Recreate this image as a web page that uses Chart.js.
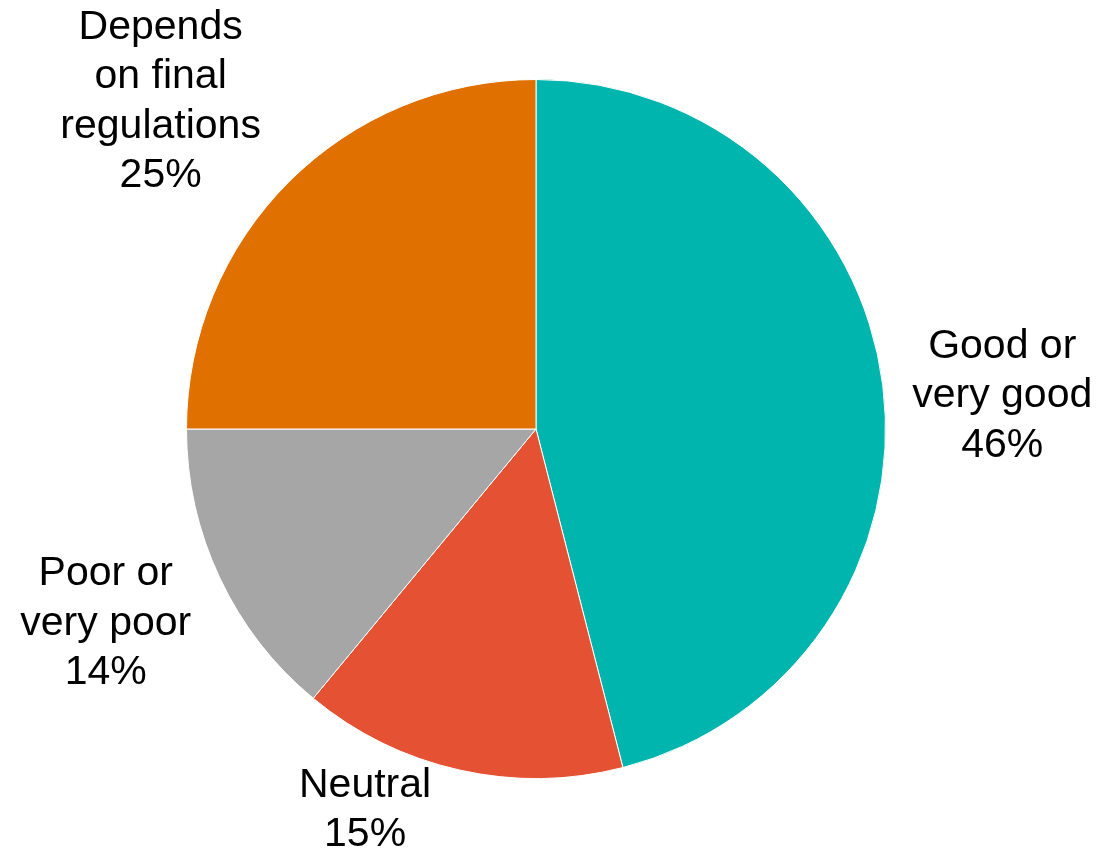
<!DOCTYPE html>
<html>
<head>
<meta charset="utf-8">
<script src="https://cdn.jsdelivr.net/npm/chart.js@4"></script>
<style>
  html, body { margin: 0; padding: 0; background: #fff; }
  #wrap { width: 1101px; height: 850px; }
</style>
</head>
<body>
<div id="wrap"><canvas id="grafico"></canvas></div>
<script>
const categorias = [
    ['Good or', 'very good'],
    ['Neutral'],
    ['Poor or', 'very poor'],
    ['Depends', 'on final', 'regulations']
];
const valores = [46, 15, 14, 25];

const cores = ['#00B5AE', '#E45133', '#A6A6A6', '#E07000'];
// label anchor, in units of the pie radius, relative to the pie centre
const posRotulos = [[1.334, -0.094], [-0.489, 1.091], [-1.231, 0.557], [-1.074, -0.937]];

const rotulosPlugin = {
    id: 'rotulos',
    afterDatasetsDraw(chart) {
        const ctx = chart.ctx;
        const meta = chart.getDatasetMeta(0);
        ctx.save();
        ctx.font = '41px "Liberation Sans", Arial, sans-serif';
        ctx.fillStyle = '#000';
        ctx.textAlign = 'center';
        ctx.textBaseline = 'middle';
        const lh = 49.5;
        meta.data.forEach(function (arc, i) {
            const p = arc.getProps(['x', 'y', 'outerRadius'], true);
            const linhas = categorias[i].concat([valores[i] + '%']);
            const cx = p.x + posRotulos[i][0] * p.outerRadius;
            const cy = p.y + posRotulos[i][1] * p.outerRadius;
            const y0 = cy - (linhas.length - 1) * lh / 2;
            linhas.forEach(function (t, j) {
                ctx.fillText(t, cx, y0 + j * lh);
            });
        });
        ctx.restore();
    }
};

new Chart(document.getElementById('grafico'), {
    type: 'pie',
    data: {
        labels: categorias.map(function (c) { return c.join(' '); }),
        datasets: [{
            data: valores,
            backgroundColor: cores,
            borderColor: '#ffffff',
            borderWidth: 1
        }]
    },
    options: {
        responsive: true,
        maintainAspectRatio: false,
        animation: false,
        layout: { padding: { left: 186, right: 215, top: 79, bottom: 71 } },
        plugins: {
            legend: { display: false },
            tooltip: { enabled: false }
        }
    },
    plugins: [rotulosPlugin]
});
</script>
</body>
</html>
